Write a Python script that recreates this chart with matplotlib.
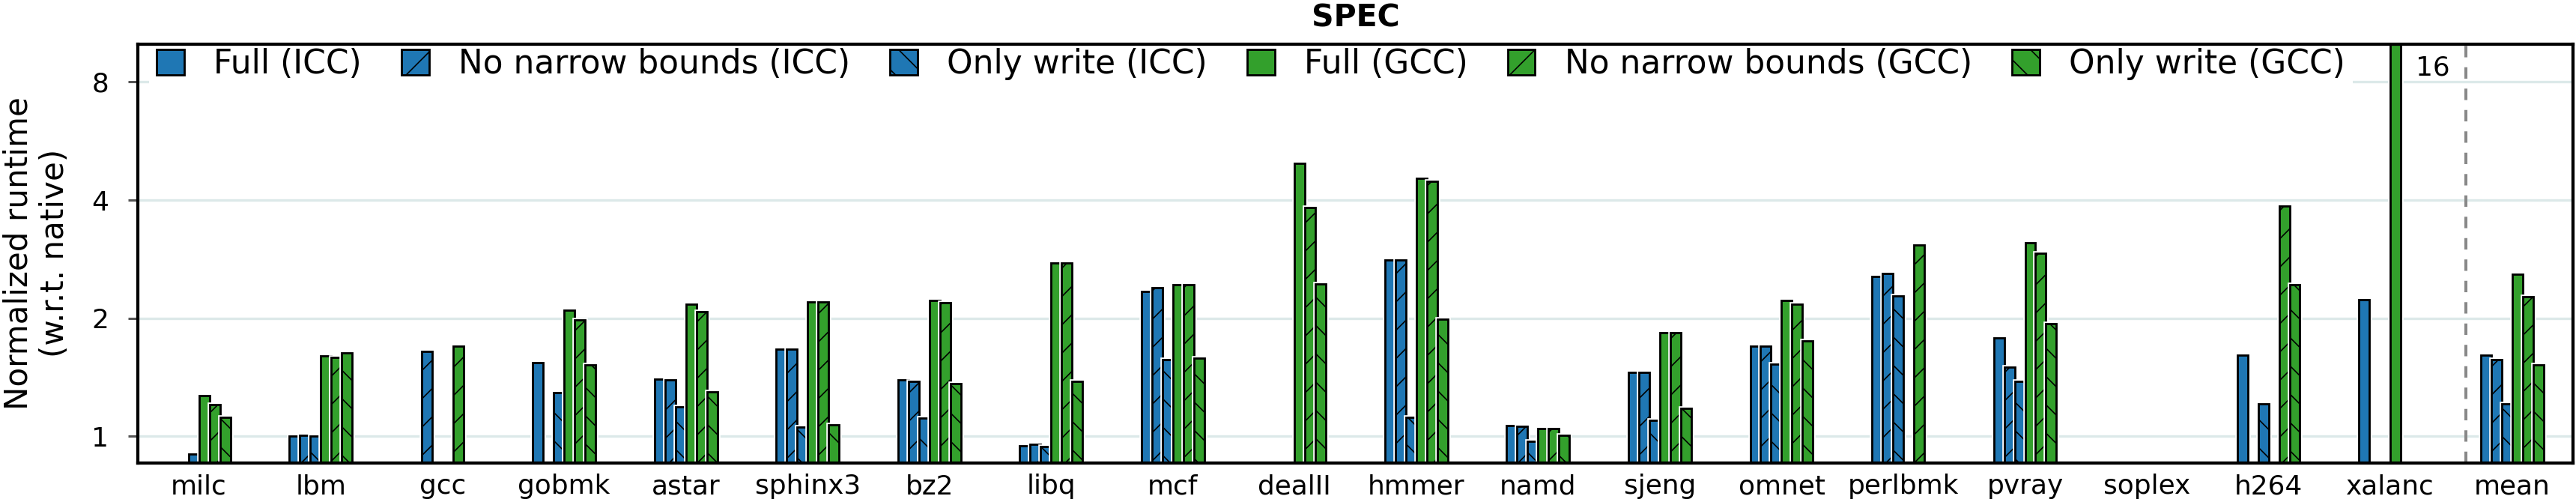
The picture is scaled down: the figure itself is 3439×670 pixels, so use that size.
import matplotlib
matplotlib.use('Agg')
import matplotlib.pyplot as plt
import matplotlib.patheffects as pe
import numpy as np

nan = np.nan

# benchmarks
benchmarks = ['milc', 'lbm', 'gcc', 'gobmk', 'astar', 'sphinx3', 'bz2', 'libq', 'mcf', 'dealII',
              'hmmer', 'namd', 'sjeng', 'omnet', 'perlbmk', 'pvray', 'soplex', 'h264', 'xalanc', 'mean']

# normalized runtime per configuration (nan = no result)
full_icc = [nan, 1.00, nan, 1.54, 1.40, 1.67, 1.39, 0.945, 2.34, nan,
            2.81, 1.066, 1.457, 1.70, 2.56, 1.78, nan, 1.61, 2.23, 1.61]
nnb_icc = [nan, 1.005, 1.646, nan, 1.39, 1.67, 1.38, 0.956, 2.39, nan,
           2.81, 1.062, 1.457, 1.70, 2.60, 1.50, nan, nan, nan, 1.57]
ow_icc = [0.90, 1.00, nan, 1.29, 1.19, 1.056, 1.113, 0.94, 1.57, nan,
          1.12, 0.97, 1.10, 1.53, 2.28, 1.38, nan, 1.21, nan, 1.21]
full_gcc = [1.27, 1.60, nan, 2.10, 2.17, 2.20, 2.22, 2.76, 2.44, 4.97,
            4.54, 1.046, 1.84, 2.22, nan, 3.11, nan, nan, 16, 2.59]
nnb_gcc = [1.205, 1.59, 1.70, 1.98, 2.08, 2.20, 2.19, 2.76, 2.44, 3.83,
           4.47, 1.046, 1.84, 2.17, 3.07, 2.93, nan, 3.87, nan, 2.27]
ow_gcc = [1.117, 1.63, nan, 1.52, 1.30, 1.072, 1.36, 1.38, 1.585, 2.45,
          1.99, 1.004, 1.18, 1.75, nan, 1.94, nan, 2.44, nan, 1.52]

series = [
    ('Full (ICC)', full_icc, '#1f77b4', ''),
    ('No narrow bounds (ICC)', nnb_icc, '#1f77b4', '///'),
    ('Only write (ICC)', ow_icc, '#1f77b4', '\\\\\\'),
    ('Full (GCC)', full_gcc, '#33a02c', ''),
    ('No narrow bounds (GCC)', nnb_gcc, '#33a02c', '///'),
    ('Only write (GCC)', ow_gcc, '#33a02c', '\\\\\\'),
]

plt.rcParams['hatch.linewidth'] = 0.35
plt.rcParams['hatch.color'] = 'black'

fig, ax = plt.subplots(figsize=(3439 / 340, 670 / 340))
fig.subplots_adjust(left=0.0536, right=0.9988, bottom=0.0776, top=0.9124)

x = np.arange(len(benchmarks))
w = 0.086
base = 0.5  # bars start below the visible range of the log axis
for i, (label, vals, color, hatch) in enumerate(series):
    ax.bar(x + (i - 2.5) * w, np.array(vals) - base, w, bottom=base, color=color, hatch=hatch,
           edgecolor='black', linewidth=0.6, label=label,
           path_effects=[pe.Stroke(linewidth=1.4, foreground='white'), pe.Normal()])

ax.set_yscale('log', base=2)
ax.set_ylim(0.855, 10.0)
ax.set_xlim(-0.5, len(benchmarks) - 0.5)
ax.set_yticks([1, 2, 4, 8])
ax.set_yticklabels(['1', '2', '4', '8'])
ax.yaxis.set_minor_locator(matplotlib.ticker.NullLocator())
ax.set_xticks(x)
ax.set_xticklabels(benchmarks)

ax.tick_params(axis='y', length=2.8, width=0.65, color='#555555', pad=5.5, labelsize=7.6)
ax.tick_params(axis='x', length=0, pad=3, labelsize=7.6)

ax.yaxis.grid(True, color='#dce9e9', linewidth=0.7)
ax.set_axisbelow(True)
for s in ax.spines.values():
    s.set_linewidth(0.9)

# the off-scale bar
xi = benchmarks.index('xalanc')
ax.text(xi + 0.21, 8.7, f'{full_gcc[xi]:g}', fontsize=7.6, ha='left', va='center')

# separator before the mean
ax.axvline(len(benchmarks) - 1.38, color='#888888', linewidth=0.85, dashes=(3.8, 3.3), zorder=0.8)

ax.set_ylabel('Normalized runtime\n(w.r.t. native)', fontsize=8.9, labelpad=6)
ax.set_title('SPEC', fontweight='bold', fontsize=8.7, pad=5)

leg = ax.legend(ncol=6, loc='upper left', bbox_to_anchor=(0.0045, 1.008), fontsize=9.3,
                handlelength=0.84, handleheight=0.84, handletextpad=0.9, columnspacing=1.2,
                borderaxespad=0, borderpad=0.23, frameon=True, fancybox=False,
                edgecolor='none', facecolor='white', framealpha=1)
leg.set_zorder(2.4)

fig.savefig('out.png', dpi=340)
